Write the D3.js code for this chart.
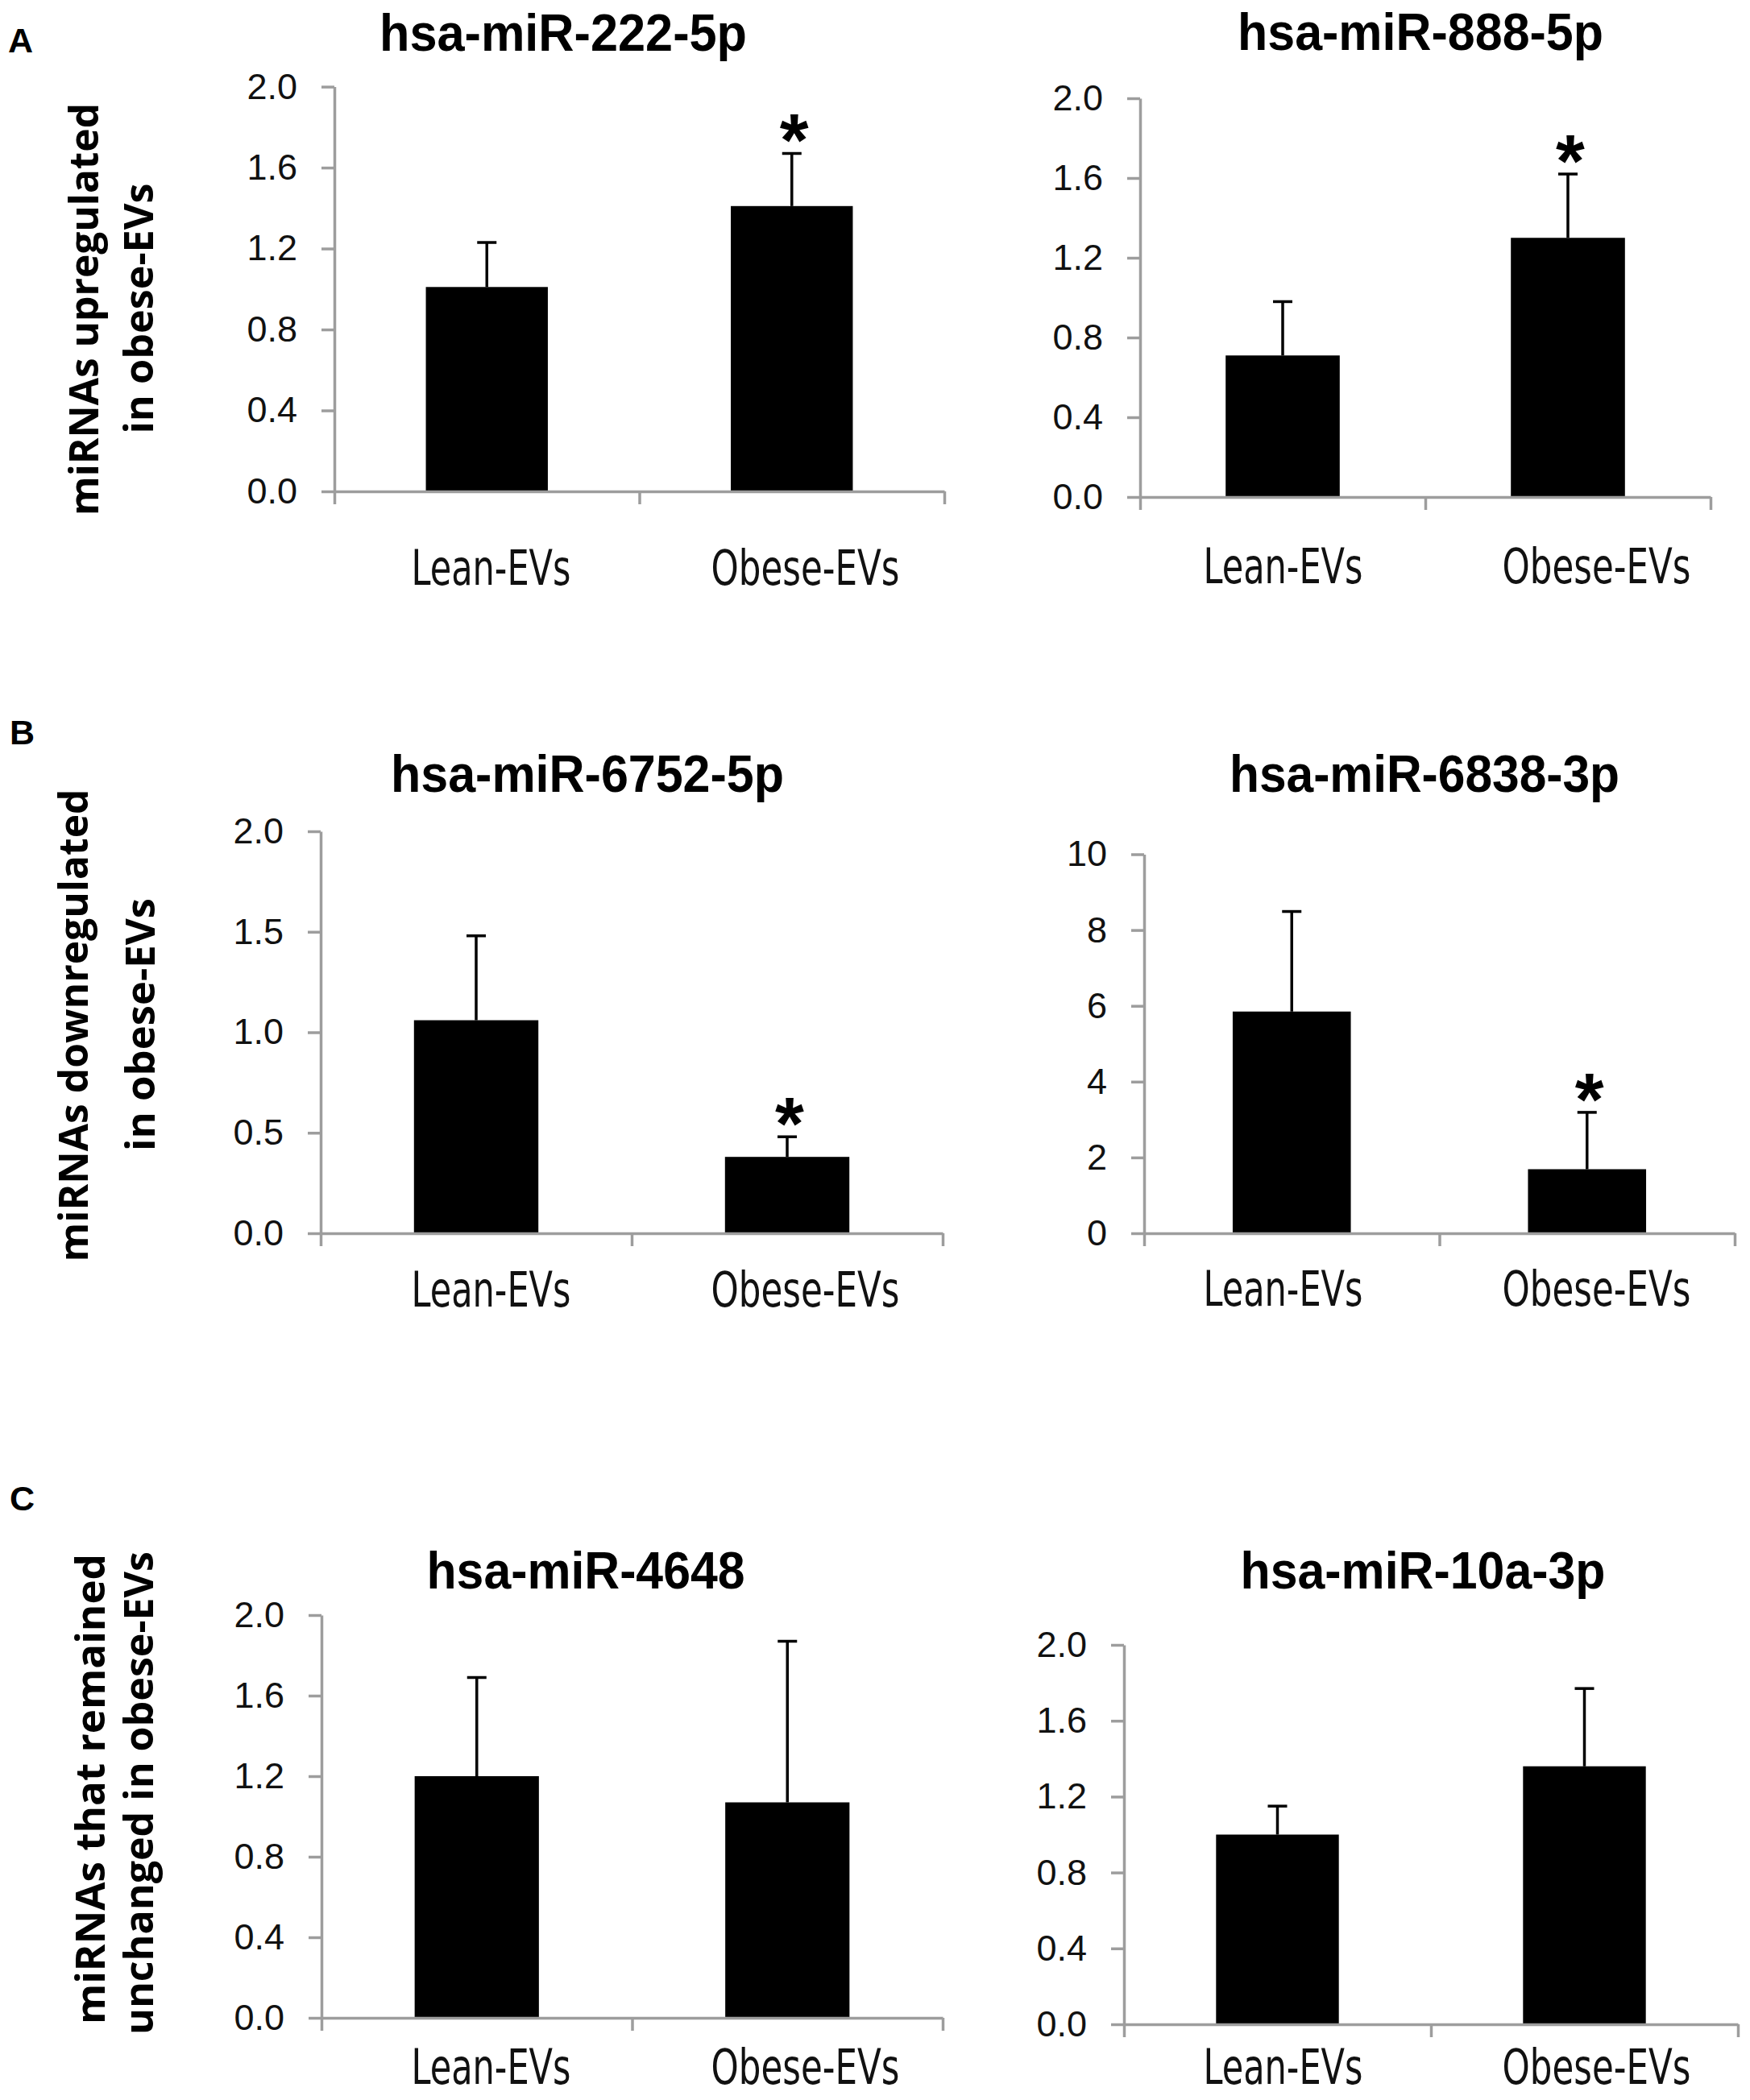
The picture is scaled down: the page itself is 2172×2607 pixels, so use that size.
<!DOCTYPE html>
<html>
<head>
<meta charset="utf-8">
<script src="https://cdn.jsdelivr.net/npm/d3@7/dist/d3.min.js"></script>
<style>
  html, body { margin: 0; padding: 0; background: #ffffff; }
  svg { display: block; }
</style>
</head>
<body>
<svg id="chart" width="2172" height="2607"></svg>
<script>
// ---------------- DATA ----------------
const panelTitles = ["hsa-miR-222-5p", "hsa-miR-888-5p", "hsa-miR-6752-5p", "hsa-miR-6838-3p", "hsa-miR-4648", "hsa-miR-10a-3p"];
const categories = ["Lean-EVs", "Obese-EVs"];
const meanValues = [
  [1.01, 1.41],
  [0.71, 1.30],
  [1.06, 0.38],
  [5.85, 1.69],
  [1.20, 1.07],
  [1.00, 1.36]
];
const errorValues = [
  [0.22, 0.26],
  [0.27, 0.32],
  [0.42, 0.10],
  [2.64, 1.50],
  [0.49, 0.80],
  [0.15, 0.41]
];
const significant = [
  [false, true],
  [false, true],
  [false, true],
  [false, true],
  [false, false],
  [false, false]
];
const yMax = [2, 2, 2, 10, 2, 2];
const yTicks = [
  [0, 0.4, 0.8, 1.2, 1.6, 2.0],
  [0, 0.4, 0.8, 1.2, 1.6, 2.0],
  [0, 0.5, 1.0, 1.5, 2.0],
  [0, 2, 4, 6, 8, 10],
  [0, 0.4, 0.8, 1.2, 1.6, 2.0],
  [0, 0.4, 0.8, 1.2, 1.6, 2.0]
];
const yTickFormats = [".1f", ".1f", ".1f", "d", ".1f", ".1f"];
const rowLetters = ["A", "B", "C"];
const rowLabels = [
  ["miRNAs upregulated", "in obese-EVs"],
  ["miRNAs downregulated", "in obese-EVs"],
  ["miRNAs that remained", "unchanged in obese-EVs"]
];
const significanceMark = "*";

// ---------------- LAYOUT ----------------
// plot frames: left/right x of the x-axis, pixel y of zero and of the axis max
const frames = [
  { x0: 415,  x1: 1172, y0: 610,  yT: 107.6, titleX: 699,  titleY: 63,  titleLen: 456, catY: 726,  catX: [609, 999] },
  { x0: 1415, x1: 2123, y0: 617,  yT: 122,   titleX: 1763, titleY: 62,  titleLen: 454, catY: 724,  catX: [1592, 1981] },
  { x0: 398,  x1: 1170, y0: 1531, yT: 1032,  titleX: 729,  titleY: 983, titleLen: 488, catY: 1622, catX: [609, 999] },
  { x0: 1420, x1: 2153, y0: 1531, yT: 1060.5,titleX: 1768, titleY: 983, titleLen: 484, catY: 1621, catX: [1592, 1981] },
  { x0: 399,  x1: 1170, y0: 2505, yT: 2005,  titleX: 727,  titleY: 1972,titleLen: 395, catY: 2587, catX: [609, 999] },
  { x0: 1395, x1: 2157, y0: 2513, yT: 2042,  titleX: 1766, titleY: 1972,titleLen: 453, catY: 2587, catX: [1592, 1981] }
];
const catLens = [198, 234];
const rowLabelLayout = [
  [{ bx: 122, cy: 384,  len: 512 }, { bx: 190, cy: 383,  len: 311 }],
  [{ bx: 109, cy: 1273, len: 587 }, { bx: 192, cy: 1272, len: 314 }],
  [{ bx: 130, cy: 2221, len: 584 }, { bx: 190, cy: 2226, len: 600 }]
];
const letterLayout = [ { x: 10, y: 65 }, { x: 12, y: 924 }, { x: 12, y: 1875 } ];

const AXIS_COLOR = "#9d9d9d";
const AXIS_W = 3.5;
const TICK = 16;
const FONT_TICK = "'Liberation Sans', Arial, sans-serif";
const FONT_CAT = "'Liberation Sans Narrow', 'Arial Narrow', 'DejaVu Sans Condensed', sans-serif";
const FONT_TITLE = "'Liberation Sans', Arial, sans-serif";
const FONT_YLAB = "'Open Sans', 'DejaVu Sans', sans-serif";

const svg = d3.select("#chart");

frames.forEach((f, i) => {
  const g = svg.append("g");
  const y = d3.scaleLinear().domain([0, yMax[i]]).range([f.y0, f.yT]);
  const xBand = d3.scaleBand().domain(categories).range([f.x0, f.x1])
    .paddingInner(0.6).paddingOuter(0.3);
  const xEdges = d3.scaleLinear().domain([0, categories.length]).range([f.x0, f.x1]);
  const xLabel = d3.scalePoint().domain(categories).range(f.catX);

  // bars
  g.selectAll("rect.bar").data(categories).enter().append("rect")
    .attr("class", "bar")
    .attr("x", c => xBand(c))
    .attr("width", xBand.bandwidth())
    .attr("y", (c, j) => y(meanValues[i][j]))
    .attr("height", (c, j) => y(0) - y(meanValues[i][j]))
    .attr("fill", "#000");

  // error bars (upper only)
  const eb = g.selectAll("g.err").data(categories).enter().append("g").attr("class", "err");
  eb.append("line")
    .attr("x1", c => xBand(c) + xBand.bandwidth() / 2)
    .attr("x2", c => xBand(c) + xBand.bandwidth() / 2)
    .attr("y1", (c, j) => y(meanValues[i][j]))
    .attr("y2", (c, j) => y(meanValues[i][j] + errorValues[i][j]))
    .attr("stroke", "#000").attr("stroke-width", 3.5);
  eb.append("line")
    .attr("x1", c => xBand(c) + xBand.bandwidth() / 2 - 12)
    .attr("x2", c => xBand(c) + xBand.bandwidth() / 2 + 12)
    .attr("y1", (c, j) => y(meanValues[i][j] + errorValues[i][j]))
    .attr("y2", (c, j) => y(meanValues[i][j] + errorValues[i][j]))
    .attr("stroke", "#000").attr("stroke-width", 3.5);

  // significance asterisks
  g.selectAll("text.sig").data(categories.filter((c, j) => significant[i][j])).enter().append("text")
    .attr("class", "sig")
    .attr("x", c => xBand(c) + xBand.bandwidth() / 2 + 3)
    .attr("y", c => { const j = categories.indexOf(c); return y(meanValues[i][j] + errorValues[i][j]) + 16; })
    .attr("text-anchor", "middle")
    .style("font-family", "'Liberation Sans', Arial, sans-serif")
    .style("font-weight", "bold")
    .style("font-size", "92px")
    .text(significanceMark);

  // y axis
  const yAxis = d3.axisLeft(y).tickValues(yTicks[i]).tickFormat(d3.format(yTickFormats[i]))
    .tickSize(TICK).tickSizeOuter(0).tickPadding(30);
  const ya = g.append("g").attr("transform", `translate(${f.x0},0)`).call(yAxis);
  ya.select(".domain").attr("stroke", AXIS_COLOR).attr("stroke-width", AXIS_W);
  ya.selectAll(".tick line").attr("stroke", AXIS_COLOR).attr("stroke-width", AXIS_W);
  ya.selectAll(".tick text").attr("fill", "#111").style("font-family", FONT_TICK).style("font-size", "45px");

  // x axis line with category boundary ticks
  const xAxisEdges = d3.axisBottom(xEdges).tickValues(d3.range(categories.length + 1)).tickFormat("")
    .tickSize(TICK).tickSizeOuter(0);
  const xa = g.append("g").attr("transform", `translate(0,${f.y0})`).call(xAxisEdges);
  xa.select(".domain").attr("stroke", AXIS_COLOR).attr("stroke-width", AXIS_W);
  xa.selectAll(".tick line").attr("stroke", AXIS_COLOR).attr("stroke-width", AXIS_W);

  // category labels
  const xAxisCats = d3.axisBottom(xLabel).tickSize(0);
  const xc = g.append("g").call(xAxisCats);
  xc.select(".domain").remove();
  xc.selectAll(".tick text")
    .attr("y", f.catY).attr("dy", 0)
    .attr("fill", "#111")
    .attr("textLength", (c, j) => catLens[j])
    .attr("lengthAdjust", "spacingAndGlyphs")
    .style("font-family", FONT_CAT).style("font-size", "60px");

  // title
  g.append("text")
    .attr("x", f.titleX).attr("y", f.titleY)
    .attr("text-anchor", "middle")
    .attr("textLength", f.titleLen).attr("lengthAdjust", "spacingAndGlyphs")
    .style("font-family", FONT_TITLE).style("font-weight", "bold").style("font-size", "64px")
    .attr("fill", "#000")
    .text(panelTitles[i]);
});

// row letters & rotated row labels
rowLetters.forEach((L, r) => {
  svg.append("text")
    .attr("x", letterLayout[r].x).attr("y", letterLayout[r].y)
    .style("font-family", "'Liberation Sans', Arial, sans-serif").style("font-weight", "bold").style("font-size", "43px")
    .attr("fill", "#000").text(L);
  rowLabels[r].forEach((line, k) => {
    const lay = rowLabelLayout[r][k];
    svg.append("text")
      .attr("transform", `translate(${lay.bx},${lay.cy}) rotate(-90)`)
      .attr("text-anchor", "middle")
      .attr("textLength", lay.len).attr("lengthAdjust", "spacingAndGlyphs")
      .style("font-family", FONT_YLAB).style("font-weight", "bold").style("font-size", "50px")
      .attr("fill", "#000")
      .text(line);
  });
});
</script>
</body>
</html>
